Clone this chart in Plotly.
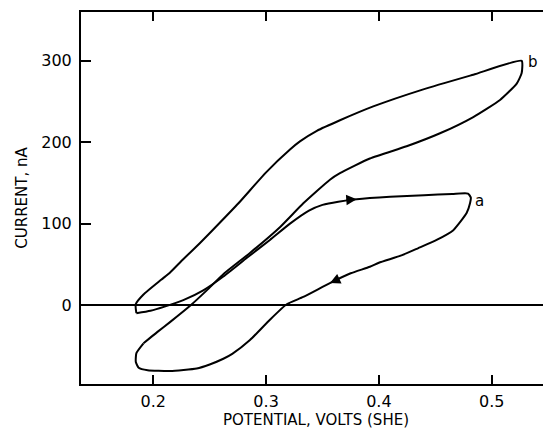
import plotly.graph_objects as go

# Loop a (smaller excursion, to ~0.48 V)
potential_a = [0.1850, 0.1975, 0.2100, 0.2266, 0.2443, 0.2621, 0.2830, 0.3034, 0.3212, 0.3380,
               0.3500, 0.3640, 0.3803, 0.4100, 0.4400, 0.4650, 0.4790, 0.4815, 0.4808, 0.4778,
               0.4660, 0.4512, 0.4350, 0.4200, 0.4000, 0.3920, 0.3750, 0.3566, 0.3330, 0.3183,
               0.3034, 0.2857, 0.2700, 0.2621, 0.2500, 0.2385, 0.2148, 0.1950, 0.1870, 0.1845,
               0.1850, 0.1913]
current_a = [-10, -7, -2, 6, 18, 35, 58, 80, 100, 116,
             123, 127, 130, 133, 135, 136.5, 137, 132, 125, 113,
             92, 80, 70, 61, 52, 47, 39, 27, 10, 1,
             -18, -43, -60, -66, -73, -78, -81, -80, -77, -70,
             -59, -47]

# Loop b (larger excursion, to ~0.525 V)
potential_b = [0.1913, 0.2037, 0.2148, 0.2334, 0.2474, 0.2630, 0.2857, 0.3125, 0.3330, 0.3566,
               0.3655, 0.3920, 0.4246, 0.4542, 0.4837, 0.5074, 0.5222, 0.5266, 0.5266, 0.4837,
               0.4394, 0.3950, 0.3655, 0.3450, 0.3300, 0.3212, 0.3000, 0.2755, 0.2568, 0.2412,
               0.2256, 0.2149, 0.2069, 0.1913, 0.1844, 0.1850]
current_b = [-47, -33, -21, 0, 18, 39, 64, 96, 125, 154,
             162, 180, 195, 211, 231, 252, 272, 285, 300, 283,
             265, 244, 227, 214, 201, 191, 163, 125, 98, 76,
             55, 40, 31, 13, 1, -10]

# Direction arrows on loop a: (tip potential, tip current, tail potential, tail current)
arrow_points = [(0.3803, 130, 0.3700, 129), (0.3566, 27, 0.3660, 33)]

# Curve labels
label_text = ["a", "b"]
label_potential = [0.4890, 0.5369]
label_current = [128, 298]

x_ticks = [0.2, 0.3, 0.4, 0.5]
x_tick_labels = ["0.2", "0.3", "0.4", "0.5"]
y_ticks = [0, 100, 200, 300]
y_tick_labels = ["0", "100", "200", "300"]

x_range = [0.1359, 0.5526]
y_range = [-97, 360]

FONT = "DejaVu Sans"

fig = go.Figure()
for xs, ys, nm in [(potential_a, current_a, "a"), (potential_b, current_b, "b")]:
    fig.add_trace(go.Scatter(x=xs, y=ys, mode="lines", name=nm, showlegend=False,
                             line=dict(color="black", width=2, shape="spline", smoothing=0.5),
                             hoverinfo="skip"))

# invisible trace to anchor right-hand tick axis
fig.add_trace(go.Scatter(x=[x_range[0]], y=[y_range[0]], yaxis="y2", mode="markers",
                         marker=dict(opacity=0), showlegend=False, hoverinfo="skip"))

for tx, ty, sx, sy in arrow_points:
    fig.add_annotation(x=tx, y=ty, ax=sx, ay=sy, axref="x", ayref="y", xref="x", yref="y",
                       text="", showarrow=True, arrowhead=2, arrowsize=1.3, arrowwidth=1.6,
                       arrowcolor="black", standoff=0, startstandoff=0)

for t, lx, ly in zip(label_text, label_potential, label_current):
    fig.add_annotation(x=lx, y=ly, text=t, showarrow=False, xref="x", yref="y",
                       font=dict(family=FONT, size=15, color="black"))

# page body adds an 8px offset, so the figure is sized to end at the window edge
fig.update_layout(
    width=543, height=430,
    margin=dict(l=73, r=0, t=4, b=54),
    paper_bgcolor="white", plot_bgcolor="white",
    font=dict(family=FONT, color="black"),
    xaxis=dict(range=x_range, tickvals=x_ticks, ticktext=x_tick_labels,
               ticks="inside", ticklen=9, tickwidth=1.5, tickcolor="black",
               showline=True, linewidth=2, linecolor="black", mirror="ticks",
               showgrid=False, zeroline=False, automargin=False,
               tickfont=dict(family=FONT, size=16, color="black"),
               ticklabelstandoff=2,
               title=dict(text="POTENTIAL, VOLTS (SHE)", standoff=3,
                          font=dict(family=FONT, size=15, color="black"))),
    yaxis=dict(range=y_range, tickvals=y_ticks, ticktext=y_tick_labels,
               ticks="inside", ticklen=10, tickwidth=1.5, tickcolor="black",
               showline=True, linewidth=2, linecolor="black", mirror=False,
               showgrid=False, zeroline=True, zerolinecolor="black", zerolinewidth=1.5,
               automargin=False,
               tickfont=dict(family=FONT, size=16, color="black"),
               ticklabelstandoff=4,
               title=dict(text="CURRENT, nA", standoff=10,
                          font=dict(family=FONT, size=15, color="black"))),
    yaxis2=dict(range=y_range, tickvals=y_ticks, overlaying="y", side="right",
                ticks="inside", ticklen=5, tickwidth=1.5, tickcolor="black",
                automargin=False,
                showline=False, showticklabels=False, showgrid=False, zeroline=False),
)

fig.write_html("out.html")
